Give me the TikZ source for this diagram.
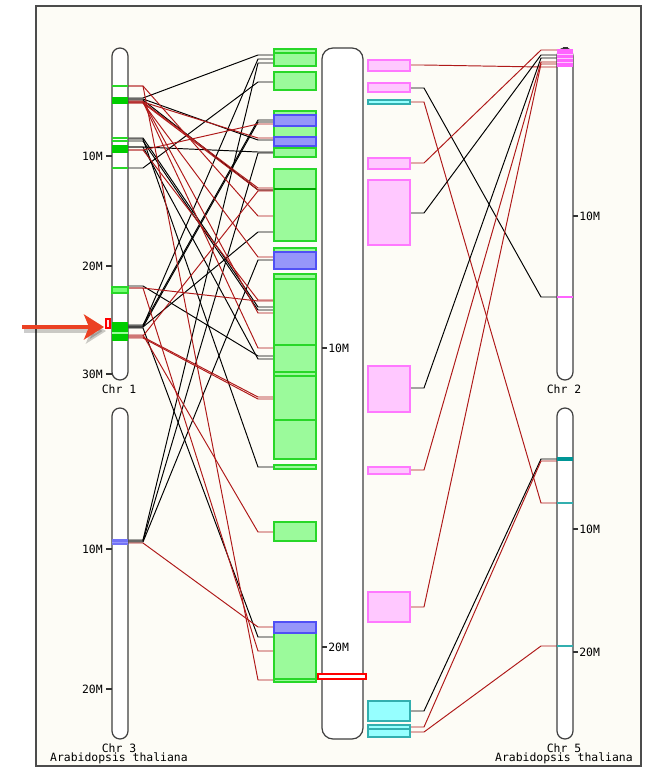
\documentclass[tikz,border=0pt]{standalone}
\usepackage{fontspec}
\setmonofont{DejaVu Sans Mono}
\usetikzlibrary{arrows.meta}

\definecolor{paper}{RGB}{253,252,246}
\definecolor{linkred}{RGB}{175,25,25}
\definecolor{boxgreen}{RGB}{155,250,155}
\definecolor{edgegreen}{RGB}{40,215,40}
\definecolor{bandgreen}{RGB}{0,205,0}
\definecolor{boxblue}{RGB}{150,150,250}
\definecolor{edgeblue}{RGB}{80,80,245}
\definecolor{boxpink}{RGB}{255,200,255}
\definecolor{edgepink}{RGB}{255,120,255}
\definecolor{bandpink}{RGB}{255,100,255}
\definecolor{boxcyan}{RGB}{150,255,255}
\definecolor{edgecyan}{RGB}{50,175,175}
\definecolor{bandteal}{RGB}{0,150,150}
\definecolor{arrowred}{RGB}{235,65,35}

\tikzset{
  chrom/.style={draw=black!75, fill=white, line width=0.7pt, rounded corners=0.16cm},
  lnk/.style={line width=0.55pt},
  gbox/.style={draw=edgegreen, fill=boxgreen, line width=0.8pt},
  bbox/.style={draw=edgeblue, fill=boxblue, line width=0.8pt},
  pbox/.style={draw=edgepink, fill=boxpink, line width=0.8pt},
  cbox/.style={draw=edgecyan, fill=boxcyan, line width=0.8pt},
  tick/.style={draw=black!80, line width=0.6pt},
  lab/.style={font=\ttfamily\fontsize{6.5}{7}\selectfont, inner sep=0pt},
}

\begin{document}
\begin{tikzpicture}[x=0.02cm,y=-0.02cm]
\useasboundingbox (0,0) rectangle (646,769);
% frame
\draw[fill=paper, draw=black!70, line width=1pt] (36,6) rectangle (641,766);

% links from chr 1 and chr 3 to the left boxes
\foreach \c/\a/\b in {black/98/55, black/326/59, black/540/63, black/168/82,
    black/325/120, black/327/122, black/99/140, black/147/152, black/541/153,
    black/100/190, black/327/232, black/542/260, black/286/356, black/138/307,
    black/141/310, black/147/359, black/139/467, black/328/637,
    linkred/150/124, linkred/102/138, linkred/102/188, linkred/103/190,
    linkred/86/216, linkred/336/191, linkred/103/257, linkred/288/301,
    linkred/101/313, linkred/102/348, linkred/337/397, linkred/338/399,
    linkred/335/532, linkred/543/627, linkred/288/651, linkred/86/680,
    linkred/150/300}
  \draw[lnk, draw=\c] (128,\a) -- (143,\a) -- (258,\b) -- (274,\b);

% links from the right boxes to chr 2 and chr 5
\foreach \c/\a/\b in {linkred/65/67, black/88/297, linkred/102/503,
    linkred/163/50, black/213/55, black/388/58, linkred/470/62,
    linkred/607/64, black/711/459, linkred/727/461, linkred/732/646}
  \draw[lnk, draw=\c] (410,\a) -- (424,\a) -- (541,\b) -- (557,\b);

% chromosomes
\draw[chrom] (112,48) rectangle (128,380);
\draw[chrom] (112,408) rectangle (128,739);
\draw[chrom, rounded corners=0.22cm] (322,48) rectangle (363,739);
\draw[chrom] (557,48) rectangle (573,380);
\draw[chrom] (557,408) rectangle (573,739);

% bands on chr 1
\draw[edgegreen, line width=0.8pt] (112,86) -- (128,86);
\fill[bandgreen] (112,97) rectangle (128,104);
\draw[edgegreen, line width=0.6pt] (112,138) -- (128,138) (112,141) -- (128,141);
\fill[bandgreen] (112,145) rectangle (128,153);
\draw[edgegreen, line width=0.8pt] (112,168) -- (128,168);
\draw[edgegreen, fill=green!55!white, line width=0.6pt] (112,287) rectangle (128,293);
\fill[bandgreen] (112,322) rectangle (128,341);
\draw[green!40!white, line width=0.6pt] (112,333) -- (128,333);
\draw[red, fill=red!10, line width=0.6pt] (106,319) rectangle (110,328);
% band on chr 3
\fill[edgeblue!80] (112,539) rectangle (128,545);
\draw[boxblue, line width=0.5pt] (112,542) -- (128,542);
% bands on chr 2 and chr 5
\fill[bandpink] (557,49) rectangle (573,67);
\draw[boxpink, line width=0.5pt] (557,54) -- (573,54) (557,58) -- (573,58) (557,62) -- (573,62);
\draw[black!80, line width=1pt] (563,48) -- (568,48);
\draw[bandpink, line width=1pt] (557,297) -- (573,297);
\draw[bandteal, line width=2pt] (557,459) -- (573,459);
\draw[edgecyan, line width=0.7pt] (557,503) -- (573,503) (557,646) -- (573,646);

% boxes beside the middle chromosome
\draw[gbox] (274,49) rectangle (316,66);
\draw[edgegreen, line width=0.8pt] (274,53) -- (316,53);
\draw[gbox] (274,72) rectangle (316,90);
\draw[gbox] (274,111) rectangle (316,157);
\draw[bbox] (274,115) rectangle (316,126);
\draw[bbox] (274,137) rectangle (316,146);
\draw[edgegreen, line width=1.2pt] (274,148) -- (316,148);
\draw[gbox] (274,169) rectangle (316,241);
\draw[green!65!black, line width=1pt] (274,189) -- (316,189);
\draw[gbox] (274,248) rectangle (316,269);
\draw[bbox] (274,252) rectangle (316,269);
\draw[gbox] (274,274) rectangle (316,459);
\foreach \y in {279,345,372,376,420}
  \draw[edgegreen, line width=0.8pt] (274,\y) -- (316,\y);
\draw[gbox] (274,465) rectangle (316,469);
\draw[gbox] (274,522) rectangle (316,541);
\draw[gbox] (274,622) rectangle (316,682);
\draw[bbox] (274,622) rectangle (316,633);
\draw[edgegreen, line width=0.8pt] (274,679) -- (316,679);

\draw[pbox] (368,60) rectangle (410,71);
\draw[pbox] (368,83) rectangle (410,92);
\draw[cbox] (368,100) rectangle (410,104);
\draw[pbox] (368,158) rectangle (410,169);
\draw[pbox] (368,180) rectangle (410,245);
\draw[pbox] (368,366) rectangle (410,412);
\draw[pbox] (368,467) rectangle (410,474);
\draw[pbox] (368,592) rectangle (410,622);
\draw[cbox] (368,701) rectangle (410,721);
\draw[cbox] (368,725) rectangle (410,737);
\draw[edgecyan, line width=0.8pt] (368,729) -- (410,729);

\draw[red, fill=white, line width=0.8pt] (318,674) rectangle (366,679);

% scale ticks
\foreach \y/\t in {156/10M, 266/20M, 374/30M, 549/10M, 689/20M} {
  \draw[tick] (106,\y) -- (112,\y);
  \node[lab, anchor=east] (tl\y) at (103,\y) {\t};
}
\foreach \x/\y/\t in {322/348/10M, 322/647/20M, 573/216/10M, 573/529/10M, 573/652/20M} {
  \draw[tick] (\x,\y) -- (\x+5,\y);
  \node[lab, anchor=west] (tr\x\y) at (\x+6,\y) {\t};
}

% chromosome names
\node[lab] (chrone) at (119,389) {Chr 1};
\node[lab] (chrtwo) at (564,389) {Chr 2};
\node[lab] (chrthree) at (119,748) {Chr 3};
\node[lab] (chrfive) at (564,748) {Chr 5};
\node[lab] (orgleft) at (119,758) {Arabidopsis thaliana};
\node[lab] (orgright) at (564,758) {Arabidopsis thaliana};

% pointer
\draw[black, opacity=0.2, line width=2.6pt, -{Stealth[length=0.4cm, width=0.5cm, inset=0.1cm]}] (24,331) -- (106,331);
\draw[arrowred, line width=2.3pt, -{Stealth[length=0.4cm, width=0.5cm, inset=0.1cm]}] (22,327) -- (104,327);
\end{tikzpicture}
\end{document}
